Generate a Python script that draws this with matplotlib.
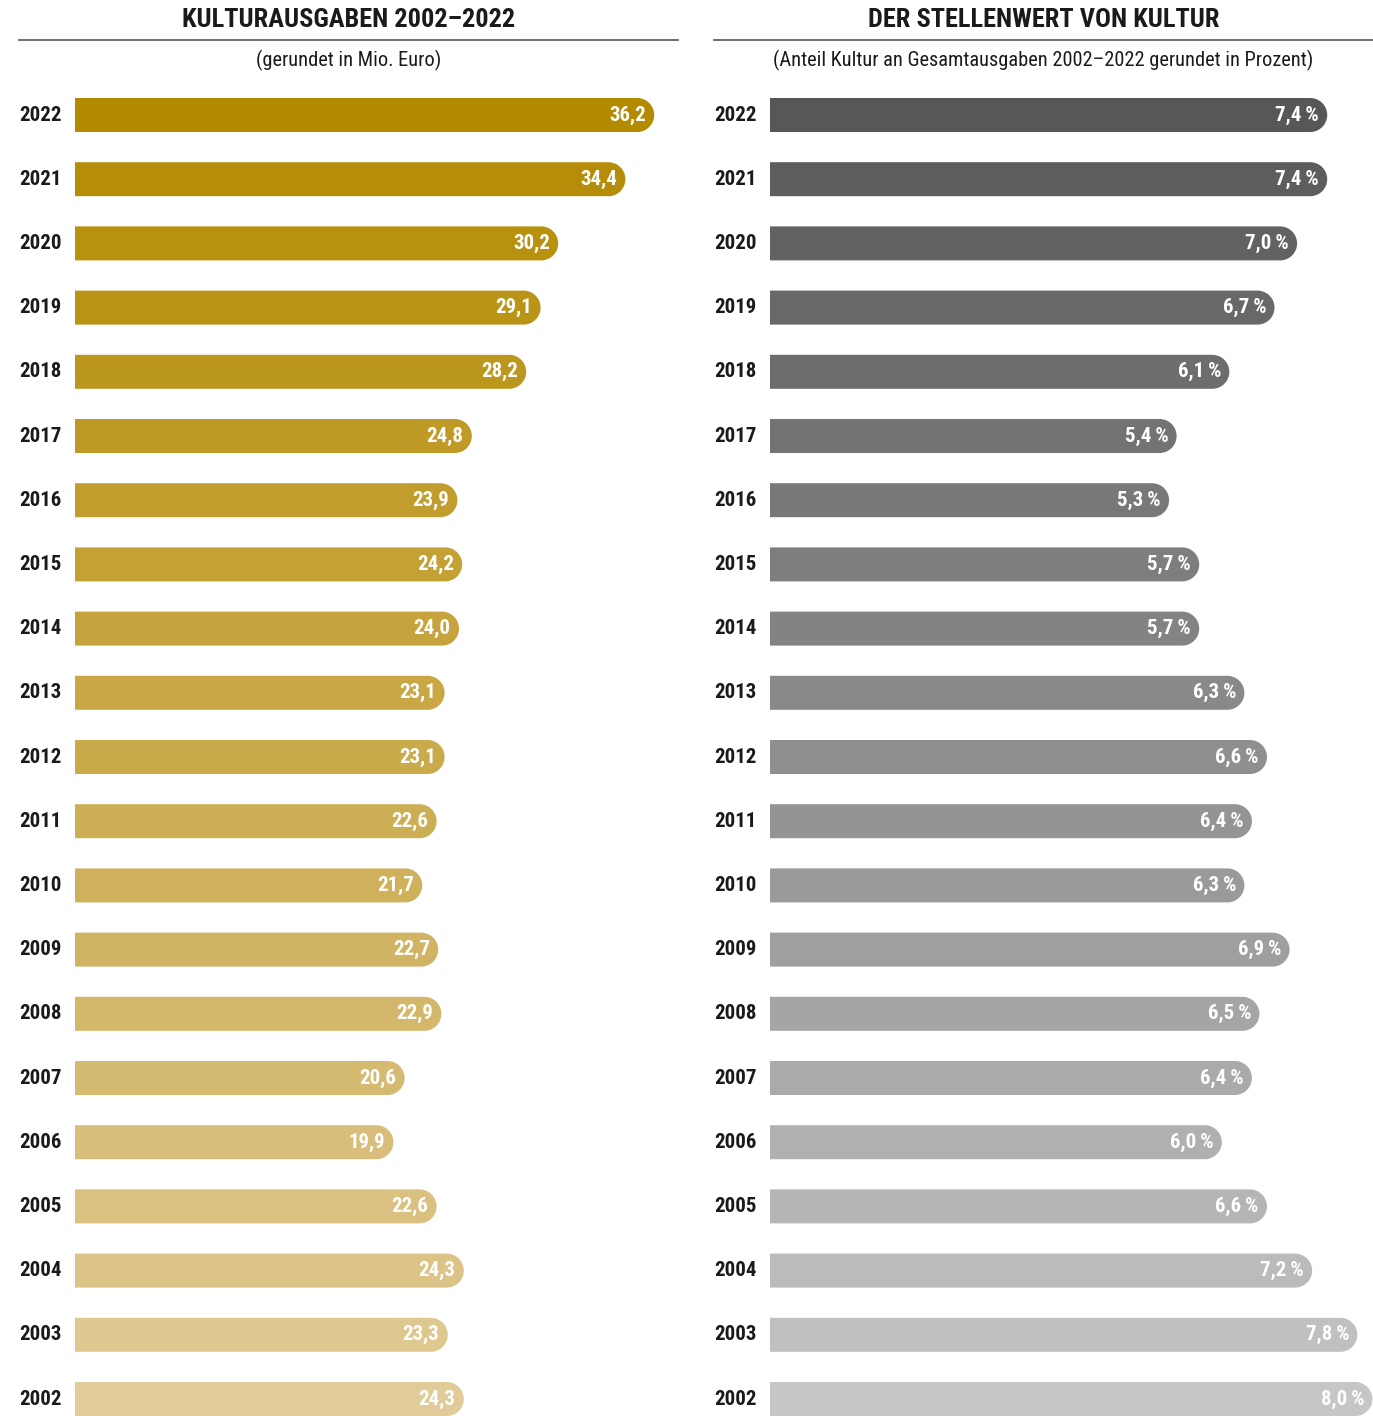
import matplotlib
matplotlib.use("Agg")
import matplotlib.pyplot as plt
import numpy as np
from matplotlib import font_manager
from matplotlib.path import Path
from matplotlib.patches import PathPatch
from matplotlib.transforms import blended_transform_factory
from matplotlib.colors import to_rgb

# pick the narrowest sans that is installed
installed = {f.name for f in font_manager.fontManager.ttflist}
for fam in ["Roboto Condensed", "Liberation Sans Narrow", "Roboto", "DejaVu Sans"]:
    if fam in installed:
        break
plt.rcParams["font.family"] = [fam, "DejaVu Sans"]

# data
years = [2022, 2021, 2020, 2019, 2018, 2017, 2016, 2015, 2014, 2013, 2012,
         2011, 2010, 2009, 2008, 2007, 2006, 2005, 2004, 2003, 2002]
ausgaben = [36.2, 34.4, 30.2, 29.1, 28.2, 24.8, 23.9, 24.2, 24.0, 23.1, 23.1,
            22.6, 21.7, 22.7, 22.9, 20.6, 19.9, 22.6, 24.3, 23.3, 24.3]
anteil = [7.4, 7.4, 7.0, 6.7, 6.1, 5.4, 5.3, 5.7, 5.7, 6.3, 6.6,
          6.4, 6.3, 6.9, 6.5, 6.4, 6.0, 6.6, 7.2, 7.8, 8.0]

titles = ["KULTURAUSGABEN 2002–2022", "DER STELLENWERT VON KULTUR"]
subtitles = ["(gerundet in Mio. Euro)",
             "(Anteil Kultur an Gesamtausgaben 2002–2022 gerundet in Prozent)"]

W, H = 1373, 1416
fig = plt.figure(figsize=(W / 100, H / 100), dpi=100)

row_top = 115      # px centre of first row
row_step = 64.2    # px between rows
bar_px = 34        # bar height in px


def fx(px):
    return px / W


def fy(px):
    return 1 - px / H


def rounded_bar(v, y, h, rx):
    # flat left end, half-ellipse right end
    k = 0.5523
    x0 = max(v - rx, 0)
    y0, y1 = y - h / 2, y + h / 2
    verts = [(0, y0), (x0, y0),
             (x0 + k * rx, y0), (v, y - k * h / 2), (v, y),
             (v, y + k * h / 2), (x0 + k * rx, y1), (x0, y1),
             (0, y1), (0, y0)]
    codes = [Path.MOVETO, Path.LINETO,
             Path.CURVE4, Path.CURVE4, Path.CURVE4,
             Path.CURVE4, Path.CURVE4, Path.CURVE4,
             Path.LINETO, Path.CLOSEPOLY]
    return PathPatch(Path(verts, codes), linewidth=0)


def panel(values, fmt, x_left, x_bar, px_per_unit, x_line, c_top, c_bot, idx):
    xmax = (x_line[1] - x_bar) / px_per_unit
    ax_top = row_top - row_step / 2
    ax = fig.add_axes([fx(x_bar), 0, fx(x_line[1] - x_bar), (H - ax_top) / H])
    ax.set_xlim(0, xmax)
    ax.set_ylim((H - row_top) / row_step, -0.5)
    ax.axis("off")

    h = bar_px / row_step
    rx = (bar_px / 2) / px_per_unit
    c0, c1 = np.array(to_rgb(c_top)), np.array(to_rgb(c_bot))
    n = len(values)
    trans = blended_transform_factory(fig.transFigure, ax.transData)
    for i, (yr, v) in enumerate(zip(years, values)):
        col = c0 + (c1 - c0) * i / (n - 1)
        p = rounded_bar(v, i, h, rx)
        p.set_facecolor(col)
        ax.add_patch(p)
        ax.annotate(fmt(v), (v, i), xytext=(-6, 0), textcoords="offset points",
                    ha="right", va="center", color="white",
                    fontsize=15, fontweight="bold")
        ax.text(fx(x_left), i, str(yr), transform=trans, ha="left",
                va="center", fontsize=15, fontweight="bold", color="#1a1a1a")

    cx = fx((x_line[0] + x_line[1]) / 2)
    fig.text(cx, fy(20), titles[idx], ha="center", va="center",
             fontsize=19, fontweight="bold", color="#1a1a1a")
    fig.text(cx, fy(60), subtitles[idx], ha="center", va="center",
             fontsize=14.7, color="#1a1a1a")
    fig.add_artist(plt.Line2D([fx(x_line[0]), fx(x_line[1])], [fy(40), fy(40)],
                              color="#555555", linewidth=1.2))


panel(ausgaben, lambda v: f"{v:.1f}".replace(".", ","), 19, 75, 16.0,
      (19, 678), "#b38a00", "#e1cb98", 0)
panel(anteil, lambda v: f"{v:.1f}\u2009%".replace(".", ","), 714, 770, 75.3,
      (714, 1373), "#575756", "#c6c6c6", 1)

fig.savefig("out.png", dpi=100)
